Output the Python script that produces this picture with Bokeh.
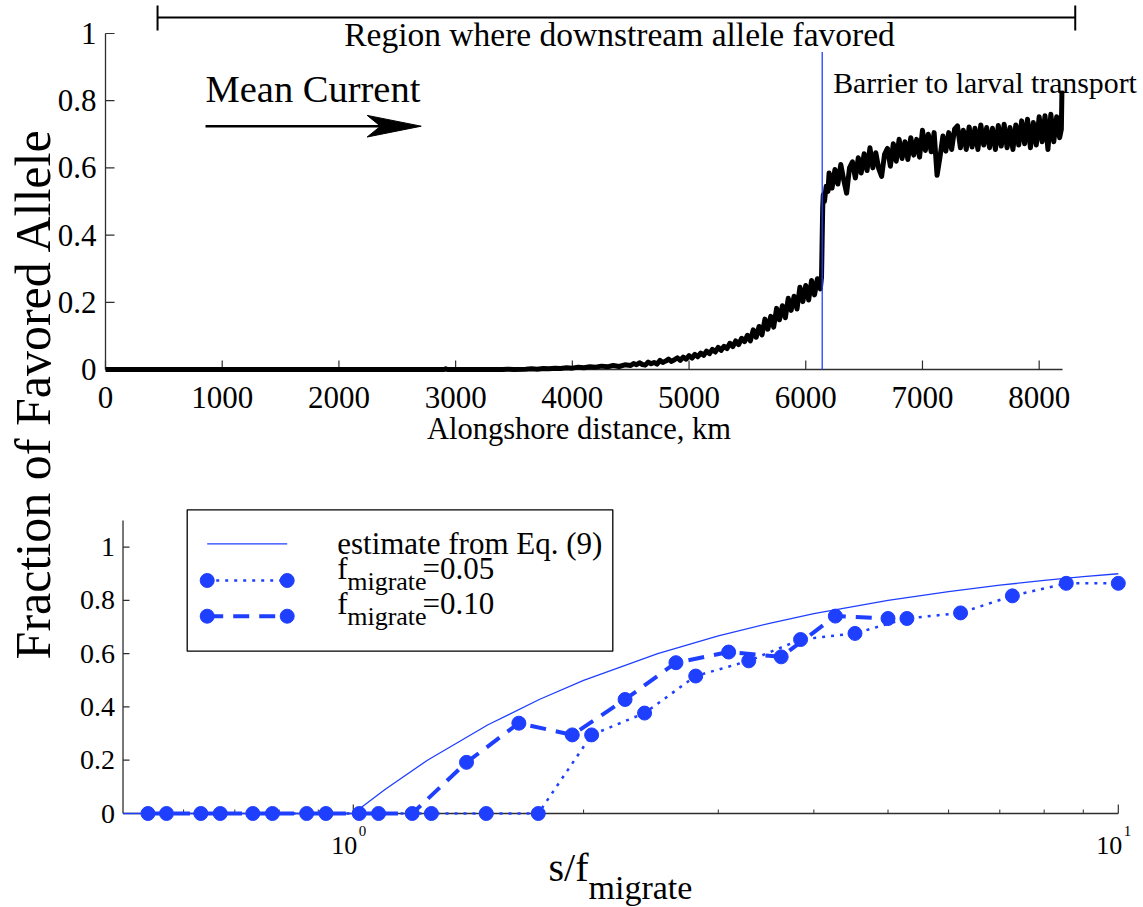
import numpy as np
from bokeh.plotting import figure
from bokeh.models import Range1d, LogScale, LinearScale
from bokeh.embed import file_html
from bokeh.resources import INLINE
from bokeh.core.properties import value

SERIF = "Liberation Serif"
BLUE = "#1f3fff"
AXIS = "#2e2e2e"

# ---------------- upper panel: simulated allele fraction along the coast ----------------
ZERO_KM = [0, 2000, 2900, 2915, 2930, 3400, 3450, 3500]
ZERO_FRAC = [0, 0, 0, 0.002, 0, 0, 0.001, 0]
LOW_FRAC = [0.001, 0.002, 0.001, 0.003, 0.002, 0.004, 0.003, 0.005, 0.004,
            0.007, 0.005, 0.008, 0.007, 0.010, 0.008, 0.012, 0.009, 0.014]        # 3600..4450 by 50
RISE_FRAC = [0.012, 0.018, 0.014, 0.020, 0.015, 0.013, 0.022, 0.017, 0.021, 0.016,   # 4500..6125 by 25
             0.027, 0.021, 0.025, 0.031, 0.024, 0.029, 0.035, 0.027, 0.037, 0.031,
             0.041, 0.034, 0.045, 0.038, 0.049, 0.042, 0.055, 0.047, 0.060, 0.052,
             0.066, 0.057, 0.069, 0.062, 0.078, 0.068, 0.085, 0.074, 0.093, 0.083,
             0.102, 0.085, 0.118, 0.096, 0.128, 0.103, 0.150, 0.120, 0.158, 0.126,
             0.182, 0.148, 0.190, 0.154, 0.212, 0.176, 0.218, 0.180, 0.245, 0.202,
             0.250, 0.207, 0.265, 0.222, 0.270, 0.240]
JUMP_KM = [6135, 6145, 6150, 6160, 6175, 6190]
JUMP_FRAC = [0.275, 0.48, 0.52, 0.50, 0.545, 0.53]
HIGH_FRAC = [0.585, 0.540, 0.595, 0.552, 0.610, 0.565, 0.525, 0.600, 0.618, 0.570,   # 6200..8175 by 25
             0.630, 0.585, 0.642, 0.592, 0.660, 0.600, 0.645, 0.598, 0.575, 0.640,
             0.658, 0.605, 0.672, 0.620, 0.685, 0.628, 0.678, 0.625, 0.690, 0.638,
             0.685, 0.632, 0.712, 0.652, 0.700, 0.648, 0.705, 0.578, 0.632, 0.695,
             0.650, 0.705, 0.655, 0.715, 0.725, 0.660, 0.712, 0.655, 0.722, 0.662,
             0.718, 0.655, 0.728, 0.668, 0.720, 0.660, 0.718, 0.655, 0.726, 0.665,
             0.730, 0.660, 0.720, 0.655, 0.728, 0.668, 0.740, 0.672, 0.745, 0.660,
             0.735, 0.668, 0.752, 0.678, 0.755, 0.655, 0.760, 0.678, 0.752, 0.690]
END_KM = [8190, 8195]
END_FRAC = [0.715, 0.830]

dist_km = (ZERO_KM + list(range(3600, 4500, 50)) + list(range(4500, 6150, 25))
           + JUMP_KM + list(range(6200, 8200, 25)) + END_KM)
frac_favored = ZERO_FRAC + LOW_FRAC + RISE_FRAC + JUMP_FRAC + HIGH_FRAC + END_FRAC

BARRIER_KM = 6141
BARRIER_TOP = 0.945
REGION_KM = (446, 8309)
X_TICKS_TOP = [0, 1000, 2000, 3000, 4000, 5000, 6000, 7000, 8000]
X_TOP_MAX = 8200
Y_TICKS = [0, 0.2, 0.4, 0.6, 0.8, 1]
Y_TICK_LABELS = ["0", "0.2", "0.4", "0.6", "0.8", "1"]

# ---------------- lower panel: fraction vs s/f_migrate ----------------
ratio_est = [0.5, 1.0, 1.1, 1.25, 1.5, 1.75, 2.0, 2.5, 3.0, 3.5, 4.0, 5.0, 6.0, 7.0, 8.0, 9.0, 10.0]
frac_est = [0, 0, 0.09, 0.2, 0.333, 0.428, 0.5, 0.6, 0.667, 0.714, 0.75, 0.8, 0.833, 0.857, 0.875, 0.889, 0.9]

ratio_f005 = [0.570, 0.670, 0.784, 0.921, 1.079, 1.265, 1.492, 1.745, 2.049, 2.403,
              2.803, 3.288, 3.843, 4.527, 5.293, 6.22, 7.27, 8.55, 10.0]
frac_f005 = [0, 0, 0, 0, 0, 0, 0, 0, 0.295, 0.377,
             0.516, 0.573, 0.653, 0.676, 0.732, 0.753, 0.817, 0.864, 0.864]

ratio_f010 = [0.539, 0.632, 0.739, 0.869, 1.018, 1.194, 1.406, 1.646, 1.933, 2.266,
              2.641, 3.095, 3.625, 4.267, 5.0]
frac_f010 = [0, 0, 0, 0, 0, 0, 0.192, 0.339, 0.295, 0.428,
             0.566, 0.606, 0.588, 0.741, 0.732]

X_BOT_RANGE = (0.5, 10)
X_BOT_MAJOR = [1, 10]
X_BOT_MINOR = [0.6, 0.7, 0.8, 0.9, 2, 3, 4, 5, 6, 7, 8, 9]
Y_BOT_TOP = 1.1

# ---------------- page geometry (page pixels) ----------------
PAGE_W, PAGE_H = 1143, 907
T_X0, T_KMPX = 105.0, 0.11671      # x pixel of 0 km, pixels per km
T_Y0, T_UNIT = 369.0, 336.0        # y pixel of fraction 0, pixels per unit
B_X0 = 120.0                       # x pixel of the lower y axis
B_X1, B_DEC = 352.8, 765.0         # x pixel of s/f = 1, pixels per decade
B_Y0, B_UNIT = 813.0, 266.4
TICK_MAJOR, TICK_MINOR = 9, 4


def tx(px):
    return (px - T_X0) / T_KMPX


def ty(py):
    return (T_Y0 - py) / T_UNIT


def bx(px):
    return 10 ** ((px - B_X1) / B_DEC)


def by(py):
    return (B_Y0 - py) / B_UNIT


def mid(baseline, size):
    # vertical centre of the em box for a given text baseline
    return baseline - 0.3375 * size


# one canvas holds both panels; the lower panel uses its own log-x / linear-y ranges
p = figure(width=PAGE_W, height=PAGE_H, output_backend="svg", toolbar_location=None,
           x_range=Range1d(tx(0), tx(PAGE_W)), y_range=Range1d(ty(PAGE_H), ty(0)),
           min_border=0, x_axis_location=None, y_axis_location=None)
p.extra_x_ranges = {"logx": Range1d(bx(0), bx(PAGE_W))}
p.extra_x_scales = {"logx": LogScale()}
p.extra_y_ranges = {"boty": Range1d(by(PAGE_H), by(0))}
p.extra_y_scales = {"boty": LinearScale()}
p.grid.visible = False
p.outline_line_color = None
p.background_fill_color = "white"
p.border_fill_color = "white"
B = dict(x_range_name="logx", y_range_name="boty")


def txt(x, y, s, size, align="left", angle=0.0, x_offset=0, **kw):
    p.text(x=[x], y=[y], text=[s], text_font=value(SERIF), text_font_size=size,
           text_align=align, text_baseline="middle", text_color="black",
           angle=angle, x_offset=x_offset, **kw)


# ======================= shared y title =======================
txt(tx(32.5), ty(393), "Fraction of Favored Allele", "50px", align="center", angle=np.pi / 2)

# ======================= upper panel =======================
p.segment(x0=[0, 0], y0=[0, 0], x1=[X_TOP_MAX, 0], y1=[0, 1], line_color=AXIS, line_width=1.3)
tick_h = TICK_MAJOR / T_UNIT
tick_w = TICK_MAJOR / T_KMPX
p.segment(x0=X_TICKS_TOP, y0=[0] * len(X_TICKS_TOP), x1=X_TICKS_TOP,
          y1=[tick_h] * len(X_TICKS_TOP), line_color=AXIS, line_width=1.2)
p.segment(x0=[0] * len(Y_TICKS), y0=Y_TICKS, x1=[tick_w] * len(Y_TICKS), y1=Y_TICKS,
          line_color=AXIS, line_width=1.2)
p.text(x=X_TICKS_TOP, y=[ty(mid(407, 31))] * len(X_TICKS_TOP),
       text=[str(t) for t in X_TICKS_TOP], text_font=value(SERIF), text_font_size="31px",
       text_align="center", text_baseline="middle", text_color="black")
p.text(x=[0] * len(Y_TICKS), y=Y_TICKS, text=Y_TICK_LABELS, text_font=value(SERIF),
       text_font_size="31px", text_align="right", text_baseline="middle",
       text_color="black", x_offset=-9)
txt(tx(578.5), ty(mid(438.3, 30.5)), "Alongshore distance, km", "30.5px", align="center")

p.line(dist_km, frac_favored, line_color="black", line_width=5, line_join="round")
p.segment(x0=[BARRIER_KM], y0=[0], x1=[BARRIER_KM], y1=[BARRIER_TOP],
          line_color=BLUE, line_width=1.3)

# region bracket
rx0, rx1 = REGION_KM
yb, yb0, yb1 = ty(17), ty(30), ty(5)
p.segment(x0=[rx0, rx0, rx1], y0=[yb, yb0, yb0], x1=[rx1, rx0, rx1], y1=[yb, yb1, yb1],
          line_color="black", line_width=2)
txt(tx(343.7), ty(mid(45, 33.5)), "Region where downstream allele favored", "33.5px")

# mean current arrow
txt(tx(205), ty(mid(101.7, 38.5)), "Mean Current", "38.5px")
arrow_y = ty(125.7)
arrow_x0, arrow_tip = tx(205), tx(420.7)
head_back, head_notch = tx(366.7), tx(380)
head_half = 10.8 / T_UNIT
p.segment(x0=[arrow_x0], y0=[arrow_y], x1=[head_notch], y1=[arrow_y],
          line_color="black", line_width=2.6)
p.patch(x=[arrow_tip, head_back, head_notch, head_back],
        y=[arrow_y, arrow_y + head_half, arrow_y, arrow_y - head_half],
        fill_color="black", line_color="black", line_width=1)

txt(tx(832.7), ty(mid(92.3, 29.8)), "Barrier to larval transport", "29.8px")

# ======================= lower panel =======================
x_lo, x_hi = X_BOT_RANGE
p.segment(x0=[x_lo, x_lo], y0=[0, 0], x1=[x_hi, x_lo], y1=[0, Y_BOT_TOP],
          line_color=AXIS, line_width=1.3, **B)
bt_maj, bt_min = TICK_MAJOR / B_UNIT, TICK_MINOR / B_UNIT
p.segment(x0=X_BOT_MAJOR, y0=[0] * 2, x1=X_BOT_MAJOR, y1=[bt_maj] * 2,
          line_color=AXIS, line_width=1.2, **B)
p.segment(x0=X_BOT_MINOR, y0=[0] * len(X_BOT_MINOR), x1=X_BOT_MINOR,
          y1=[bt_min] * len(X_BOT_MINOR), line_color=AXIS, line_width=1.0, **B)
y_tick_x1 = bx(B_X0 + TICK_MAJOR)
p.segment(x0=[x_lo] * len(Y_TICKS), y0=Y_TICKS, x1=[y_tick_x1] * len(Y_TICKS), y1=Y_TICKS,
          line_color=AXIS, line_width=1.2, **B)
p.text(x=[x_lo] * len(Y_TICKS), y=Y_TICKS, text=Y_TICK_LABELS, text_font=value(SERIF),
       text_font_size="28px", text_align="right", text_baseline="middle",
       text_color="black", x_offset=-8, **B)
# 10^n tick labels
p.text(x=X_BOT_MAJOR, y=[by(mid(853.3, 26))] * 2, text=["10", "10"], text_font=value(SERIF),
       text_font_size="26px", text_align="right", text_baseline="middle",
       text_color="black", x_offset=4, **B)
p.text(x=X_BOT_MAJOR, y=[by(mid(835.5, 15))] * 2, text=["0", "1"], text_font=value(SERIF),
       text_font_size="15px", text_align="left", text_baseline="middle",
       text_color="black", x_offset=5.5, **B)
# x title with subscript
txt(bx(548), by(mid(880, 40)), "s/f", "40px", **B)
txt(bx(588), by(mid(898, 34)), "migrate", "34px", **B)

p.line(ratio_est, frac_est, line_color=BLUE, line_width=1.3, **B)
p.line(ratio_f005, frac_f005, line_color=BLUE, line_width=2.5, line_dash="3 6", **B)
p.scatter(ratio_f005, frac_f005, size=14, marker="circle", fill_color=BLUE, line_color=BLUE, **B)
p.line(ratio_f010, frac_f010, line_color=BLUE, line_width=4, line_dash="16 10", **B)
p.scatter(ratio_f010, frac_f010, size=14, marker="circle", fill_color=BLUE, line_color=BLUE, **B)

# legend
p.quad(left=[bx(186.7)], right=[bx(612.3)], top=[by(509.3)], bottom=[by(650.7)],
       fill_color="white", line_color="black", line_width=1.3, **B)
sx0, sx1 = bx(206.7), bx(286.7)
p.line([sx0, sx1], [by(543.3)] * 2, line_color=BLUE, line_width=1.3, **B)
p.line([sx0, sx1], [by(580)] * 2, line_color=BLUE, line_width=2.5, line_dash="3 6", **B)
p.scatter([sx0, sx1], [by(580)] * 2, size=14, fill_color=BLUE, line_color=BLUE, **B)
p.line([sx0, sx1], [by(615.7)] * 2, line_color=BLUE, line_width=4, line_dash="16 10", **B)
p.scatter([sx0, sx1], [by(615.7)] * 2, size=14, fill_color=BLUE, line_color=BLUE, **B)

txt(bx(336.7), by(mid(553.3, 31)), "estimate from Eq. (9)", "31px", **B)
for base, val in ((578.3, "=0.05"), (613.3, "=0.10")):
    txt(bx(336.7), by(mid(base, 31)), "f", "31px", **B)
    txt(bx(346.7), by(mid(base + 11.7, 26)), "migrate", "26px", **B)
    txt(bx(422), by(mid(base, 31)), val, "31px", **B)

open("out.html", "w").write(file_html(p, INLINE))
